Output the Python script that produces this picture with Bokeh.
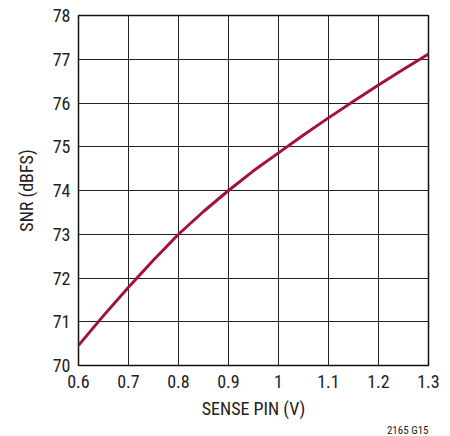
from bokeh.plotting import figure
from bokeh.models import Range1d, FixedTicker, Title
from bokeh.embed import file_html
from bokeh.resources import INLINE

sense_v = [0.60, 0.65, 0.70, 0.75, 0.80, 0.85, 0.90, 0.95, 1.00, 1.05, 1.10, 1.15, 1.20, 1.25, 1.30]
snr_dbfs = [70.46, 71.14, 71.79, 72.41, 73.00, 73.52, 74.00, 74.45, 74.86, 75.27, 75.66, 76.04, 76.41, 76.77, 77.12]
x_ticks = [0.6, 0.7, 0.8, 0.9, 1.0, 1.1, 1.2, 1.3]
x_tick_labels = ["0.6", "0.7", "0.8", "0.9", "1", "1.1", "1.2", "1.3"]
y_ticks = [70, 71, 72, 73, 74, 75, 76, 77, 78]

FONT = "Liberation Sans Narrow, Roboto Condensed, Arial Narrow, sans-serif"

p = figure(width=450, height=436, output_backend="svg", toolbar_location=None,
           x_range=Range1d(0.6, 1.3), y_range=Range1d(70, 78),
           min_border_left=78, min_border_right=22, min_border_top=15, min_border_bottom=70)

p.line(sense_v, snr_dbfs, line_color="#A3123F", line_width=3)

p.xaxis.ticker = FixedTicker(ticks=x_ticks)
p.xaxis.major_label_overrides = {t: l for t, l in zip(x_ticks, x_tick_labels)}
p.yaxis.ticker = FixedTicker(ticks=y_ticks)

for ax in (p.xaxis[0], p.yaxis[0]):
    ax.major_tick_in = 0
    ax.major_tick_out = 0
    ax.minor_tick_in = 0
    ax.minor_tick_out = 0
    ax.axis_line_color = None
    ax.major_label_text_font = FONT
    ax.major_label_text_font_size = "18px"
    ax.major_label_text_color = "#222222"
    ax.axis_label_text_font = FONT
    ax.axis_label_text_font_size = "18px"
    ax.axis_label_text_font_style = "normal"
    ax.axis_label_text_color = "#222222"

p.xaxis.axis_label = "SENSE PIN (V)"
p.yaxis.axis_label = "SNR (dBFS)"
p.xaxis.major_label_standoff = 9
p.yaxis.major_label_standoff = 8
p.xaxis.axis_label_standoff = 7
p.yaxis.axis_label_standoff = 13

p.xgrid.grid_line_color = "#222222"
p.ygrid.grid_line_color = "#222222"
p.xgrid.grid_line_width = 1
p.ygrid.grid_line_width = 1

p.outline_line_color = "#111111"
p.outline_line_width = 1.5
p.background_fill_color = "white"
p.border_fill_color = "white"

note = Title(text="2165 G15", align="right", text_font=FONT, text_font_size="11px",
             text_font_style="normal", text_color="#222222", standoff=0, offset=0)
p.add_layout(note, "below")

open("out.html", "w").write(file_html(p, INLINE))
